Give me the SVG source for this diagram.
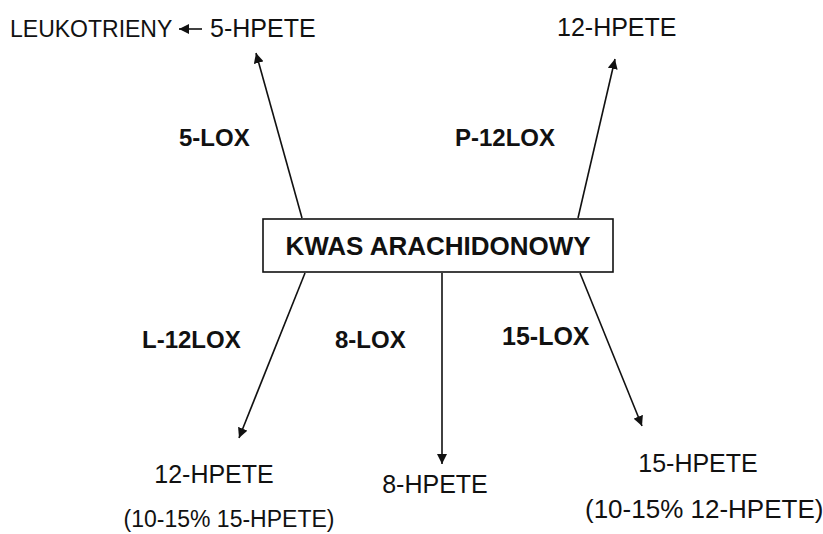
<svg xmlns="http://www.w3.org/2000/svg" width="823" height="534" viewBox="0 0 823 534">
<style>
text{font-family:"Liberation Sans",Arial,sans-serif;fill:#111}
.b{font-weight:bold}
.c{stroke:#111;stroke-width:1.6;fill:none}
</style>
<defs>
<marker id="ah" viewBox="0 0 10 10" refX="10" refY="5" markerWidth="10" markerHeight="10" markerUnits="userSpaceOnUse" orient="auto">
<path d="M0,0 L10,5 L0,10 z" fill="#111"/>
</marker>
</defs>
<rect width="823" height="534" fill="#fff"/>
<g id="kwas">
<rect x="263" y="219" width="350" height="53" fill="#fff" stroke="#111" stroke-width="1.6"/>
<text class="b" x="438" y="255" font-size="26" text-anchor="middle">KWAS ARACHIDONOWY</text>
</g>
<g id="leukotrieny"><text x="10" y="37" font-size="23">LEUKOTRIENY</text></g>
<g id="hpete5"><text x="210" y="37" font-size="25">5-HPETE</text></g>
<g id="hpete12top"><text x="557" y="36" font-size="25">12-HPETE</text></g>
<g id="hpete12bottom">
<text x="214" y="483" font-size="25" text-anchor="middle">12-HPETE</text>
<text x="229" y="527" font-size="23" text-anchor="middle">(10-15% 15-HPETE)</text>
</g>
<g id="hpete8"><text x="435" y="493" font-size="25" text-anchor="middle">8-HPETE</text></g>
<g id="hpete15">
<text x="698" y="472" font-size="25" text-anchor="middle">15-HPETE</text>
<text x="585" y="518" font-size="26">(10-15% 12-HPETE)</text>
</g>
<g id="connectors">
<line class="c" x1="202" y1="29" x2="179" y2="29" marker-end="url(#ah)"/>
<line class="c" x1="302" y1="218" x2="256" y2="53" marker-end="url(#ah)"/>
<line class="c" x1="578" y1="218" x2="615" y2="59" marker-end="url(#ah)"/>
<line class="c" x1="305" y1="273" x2="239" y2="438" marker-end="url(#ah)"/>
<line class="c" x1="442" y1="273" x2="442" y2="464" marker-end="url(#ah)"/>
<line class="c" x1="580" y1="273" x2="642" y2="426" marker-end="url(#ah)"/>
<text class="b" x="179" y="146" font-size="24">5-LOX</text>
<text class="b" x="455" y="146" font-size="24">P-12LOX</text>
<text class="b" x="142" y="348" font-size="24">L-12LOX</text>
<text class="b" x="335" y="348" font-size="24">8-LOX</text>
<text class="b" x="502" y="345" font-size="25">15-LOX</text>
</g>
</svg>
